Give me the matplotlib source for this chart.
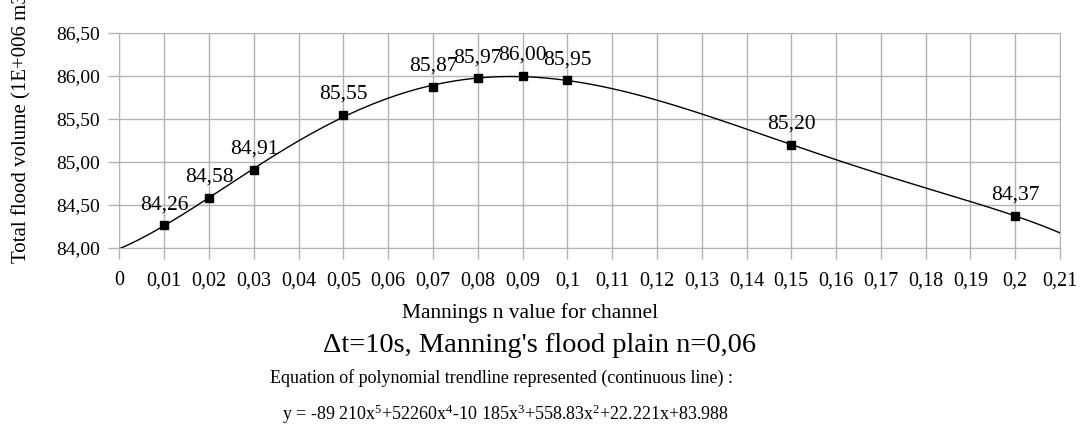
import numpy as np
import matplotlib
matplotlib.use("Agg")
import matplotlib.pyplot as plt

# Mannings n for channel vs total flood volume (1E+006 m3)
manning_n = [0.01, 0.02, 0.03, 0.05, 0.07, 0.08, 0.09, 0.10, 0.15, 0.20]
flood_volume = [84.26, 84.58, 84.91, 85.55, 85.87, 85.97, 86.00, 85.95, 85.20, 84.37]

x_ticks = [i / 100 for i in range(0, 22)]
x_tick_labels = ["0", "0,01", "0,02", "0,03", "0,04", "0,05", "0,06", "0,07", "0,08",
                 "0,09", "0,1", "0,11", "0,12", "0,13", "0,14", "0,15", "0,16", "0,17",
                 "0,18", "0,19", "0,2", "0,21"]
y_ticks = [84.0, 84.5, 85.0, 85.5, 86.0, 86.5]
y_tick_labels = ["84,00", "84,50", "85,00", "85,50", "86,00", "86,50"]

plt.rcParams["font.family"] = ["Liberation Serif", "DejaVu Serif"]
plt.rcParams["mathtext.fontset"] = "custom"
plt.rcParams["mathtext.rm"] = "Liberation Serif"
plt.rcParams["mathtext.it"] = "Liberation Serif"

fig = plt.figure(figsize=(10.81, 4.28), dpi=100)
ax = fig.add_axes([0.1105, 0.4213, 0.8701, 0.5017])

# trendline: 5th degree polynomial fitted on the points
coefs = np.polyfit(manning_n, flood_volume, 5)
xs = np.linspace(0, 0.21, 400)
ax.plot(xs, np.polyval(coefs, xs), color="black", lw=1.0, zorder=3)

ax.plot(manning_n, flood_volume, ls="none", marker="s", ms=6, color="black", zorder=4)
for xv, yv in zip(manning_n, flood_volume):
    ax.annotate(f"{yv:.2f}".replace(".", ","), (xv, yv), xytext=(0, 8),
                textcoords="offset points", ha="center", va="bottom", fontsize=15.5)

ax.set_xlim(0, 0.21)
ax.set_ylim(84.0, 86.5)
ax.set_xticks(x_ticks)
ax.set_xticklabels(x_tick_labels, fontsize=14.5)
ax.set_yticks(y_ticks)
ax.set_yticklabels(y_tick_labels, fontsize=14)
ax.grid(True, color="#b3b3b3", lw=1.0)
ax.set_axisbelow(True)
for s in ax.spines.values():
    s.set_color("#b3b3b3")
ax.tick_params(colors="#b3b3b3", labelcolor="black", length=8, width=1.0)
ax.tick_params(axis="x", pad=9)
ax.tick_params(axis="y", pad=6)

fig.text(22 / 1081, 1 - 263 / 428, "Total flood volume (1E+006 m3)", rotation=90,
         ha="center", va="bottom", fontsize=15)

fig.text(530 / 1081, 1 - 313 / 428, "Mannings n value for channel", ha="center",
         va="center", fontsize=15.5)
fig.text(540 / 1081, 1 - 345 / 428, "Δt=10s, Manning's flood plain n=0,06", ha="center",
         va="center", fontsize=20.5)
fig.text(502 / 1081, 1 - 378 / 428,
         "Equation of polynomial trendline represented (continuous line) :",
         ha="center", va="center", fontsize=13)
fig.text(506 / 1081, 1 - 414 / 428,
         "y = -89 210x$^5$+52260x$^4$-10 185x$^3$+558.83x$^2$+22.221x+83.988",
         ha="center", va="center", fontsize=13)

fig.savefig("out.png", dpi=100)
